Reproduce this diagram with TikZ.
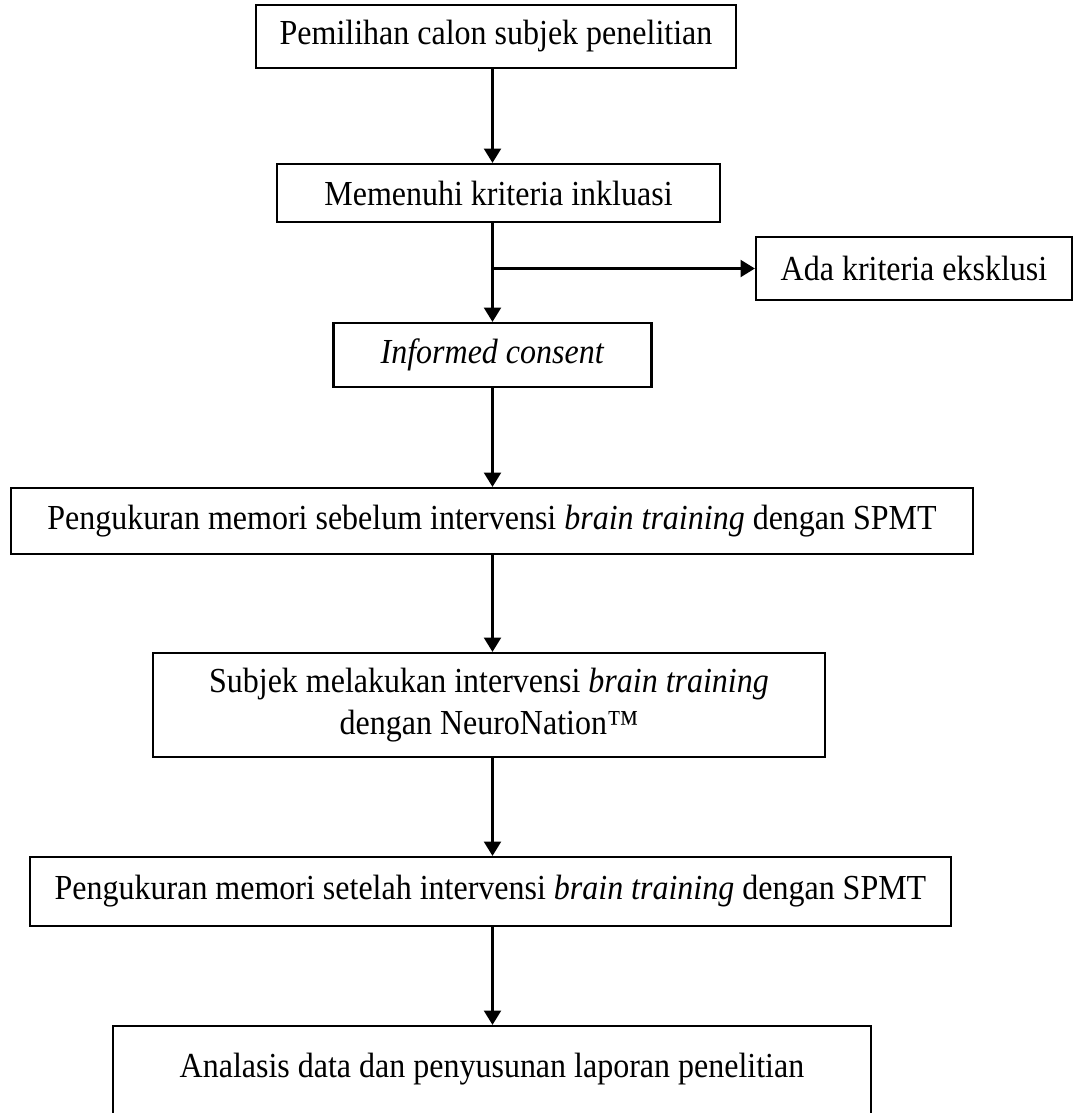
\documentclass[tikz,border=0pt]{standalone}
\usepackage{fontspec}
\setmainfont[FakeStretch=0.91]{Liberation Serif}
\usepackage{tikz}
\usetikzlibrary{arrows.meta}

\begin{document}
\begin{tikzpicture}[x=0.025cm, y=-0.025cm,
  box/.style={draw, line width=1.5pt, inner sep=0pt, align=center, font=\fontsize{25}{30}\selectfont},
  flow/.style={line width=2.1pt, -{Triangle[length=0.36cm, width=0.42cm]}}]
  \useasboundingbox (0,0) rectangle (1086,1113);

  % Nodes
  \node[box, minimum width=12cm, minimum height=1.575cm] (b1) at (496,36.5) {Pemilihan calon subjek penelitian};
  \node[box, minimum width=11.075cm, minimum height=1.45cm] (b2) at (498.5,193) {Memenuhi kriteria inkluasi};
  \node[box, minimum width=7.9cm, minimum height=1.575cm] (b3) at (914,268.5) {Ada kriteria eksklusi};
  \node[box, minimum width=7.95cm, minimum height=1.6cm] (b4) at (492.5,355) {\textit{Informed consent}};
  \node[box, minimum width=24.05cm, minimum height=1.65cm] (b5) at (492,521) {Pengukuran memori sebelum intervensi \textit{brain training} dengan SPMT};
  \node[box, minimum width=16.8cm, minimum height=2.6cm] (b6) at (489,705) {Subjek melakukan intervensi \textit{brain training}\\dengan NeuroNation™};
  \node[box, minimum width=23.025cm, minimum height=1.725cm] (b7) at (490.5,891.5) {Pengukuran memori setelah intervensi \textit{brain training} dengan SPMT};
  \node[box, minimum width=18.95cm, minimum height=3.1cm] (b8) at (492,1088) {Analasis data dan penyusunan laporan penelitian\\[2pt]~};

  % Arrows
  \draw[flow] (b1.south -| b4.north) -- (b2.north -| b4.north);
  \draw[flow] (b2.south -| b4.north) -- (b4.north);
  \coordinate (split) at (b3.west -| b4.north);
  \draw[flow] (split) -- (b3.west);
  \draw[flow] (b4.south) -- (b5.north -| b4.south);
  \draw[flow] (b5.south -| b4.south) -- (b6.north -| b4.south);
  \draw[flow] (b6.south -| b4.south) -- (b7.north -| b4.south);
  \draw[flow] (b7.south -| b4.south) -- (b8.north -| b4.south);
\end{tikzpicture}
\end{document}
